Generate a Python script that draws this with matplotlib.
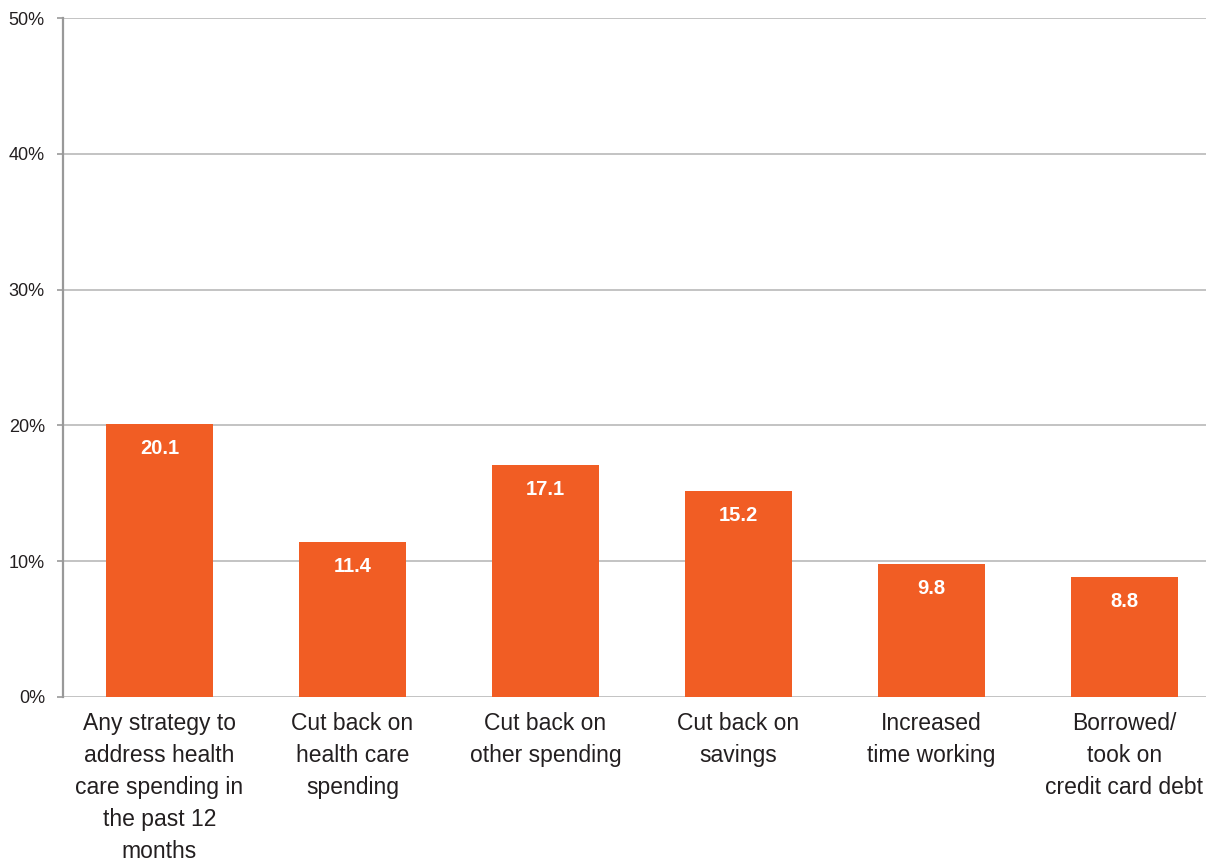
import numpy as np
import matplotlib.pyplot as plt
import matplotlib.ticker as mticker

# share of respondents (%)
labels = ['Any strategy to\naddress health\ncare spending in\nthe past 12\nmonths',
          'Cut back on\nhealth care\nspending',
          'Cut back on\nother spending',
          'Cut back on\nsavings',
          'Increased\ntime working',
          'Borrowed/\ntook on\ncredit card debt']
values = [20.1, 11.4, 17.1, 15.2, 9.8, 8.8]

plt.rcParams['font.family'] = ['Liberation Sans', 'DejaVu Sans']

fig = plt.figure(figsize=(12.06, 8.63), dpi=100)
# axes run slightly past the right edge, like the reference
ax = fig.add_axes([0.0522, 0.1924, 0.9602, 0.7867])

x_pos = np.arange(len(labels))
bars = ax.bar(x_pos, values, 0.555, color='#F15D24', zorder=3)
for b, v in zip(bars, values):
    ax.text(b.get_x() + b.get_width() / 2, v - 1.1, f'{v:.1f}', ha='center', va='top',
            color='white', fontsize=14.5, fontweight='bold', zorder=4)

ax.set_xlim(-0.5, len(labels) - 0.5)
ax.set_ylim(0, 50)
ax.set_yticks(np.arange(0, 51, 10))
ax.yaxis.set_major_formatter(mticker.FuncFormatter(lambda v, p: f'{int(v)}%'))
ax.set_xticks(x_pos)
ax.set_xticklabels(labels, fontsize=16.5, color='#231F20', linespacing=1.5)
ax.tick_params(axis='x', length=0, pad=11)
ax.tick_params(axis='y', length=4, width=1.2, color='#999999', labelsize=13,
               labelcolor='#231F20', pad=9)
ax.yaxis.grid(True, color='#BEBEBE', linewidth=1.3, zorder=0)

for s in ['top', 'right', 'bottom']:
    ax.spines[s].set_visible(False)
ax.spines['left'].set_color('#999999')
ax.spines['left'].set_linewidth(1.6)

plt.savefig('out.png', dpi=100)
